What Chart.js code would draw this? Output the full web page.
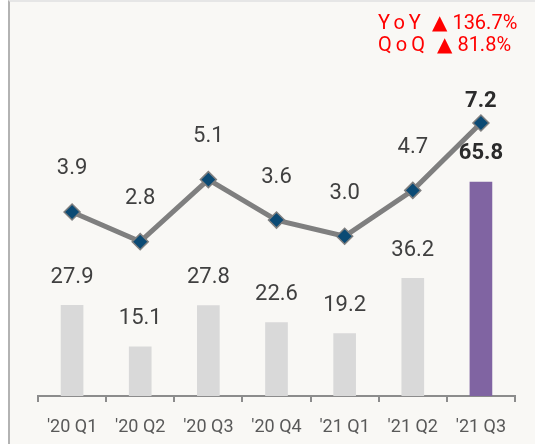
<!DOCTYPE html>
<html>
<head>
<meta charset="utf-8">
<script src="https://cdn.jsdelivr.net/npm/chart.js@4"></script>
<style>
    html, body { margin: 0; padding: 0; background: #ffffff; }
    .frame {
        position: absolute; left: 8px; top: 0; width: 525px; height: 442px;
        background: #f9f8f5; border-left: 2px solid #b3b3b3; border-top: 2px solid #e6e6e6;
    }
    canvas { display: block; }
    .growth {
        position: absolute; left: 368px; font-family: Roboto, 'DejaVu Sans', sans-serif;
        font-size: 20px; color: #ff0000; line-height: 22px; white-space: nowrap;
    }
    .growth .tag { display: inline-block; letter-spacing: 4px; }
    .growth .num { margin-left: 5px; }
</style>
</head>
<body>
<div class="frame">
    <canvas id="chart" width="525" height="442"></canvas>
    <div class="growth" style="top: 9px;"><span class="tag" style="width: 54px;">YoY</span>▲<span class="num">136.7%</span></div>
    <div class="growth" style="top: 31px;"><span class="tag" style="width: 59px;">QoQ</span>▲<span class="num">81.8%</span></div>
</div>
<script>
    // ============================================
    // Data
    // ============================================

    const quarters = ["'20 Q1", "'20 Q2", "'20 Q3", "'20 Q4", "'21 Q1", "'21 Q2", "'21 Q3"];
    const barValues = [27.9, 15.1, 27.8, 22.6, 19.2, 36.2, 65.8];
    const lineValues = [3.9, 2.8, 5.1, 3.6, 3.0, 4.7, 7.2];

    // ============================================
    // Styles
    // ============================================

    const COLORS = {
        bar: '#d9d9d9',
        barHighlight: '#8064a2',
        line: '#7f7f7f',
        point: '#0b4a74',
        label: '#404040',
        labelStrong: '#2b2b2b',
        axis: '#8c8c8c',
        tick: '#595959'
    };

    const lastIndex = barValues.length - 1;

    // value labels drawn above bars and points
    const valueLabels = {
        id: 'valueLabels',
        afterDatasetsDraw(chart) {
            const ctx = chart.ctx;
            ctx.save();
            ctx.textAlign = 'center';
            ctx.textBaseline = 'middle';
            chart.data.datasets.forEach((ds, di) => {
                const meta = chart.getDatasetMeta(di);
                meta.data.forEach((el, i) => {
                    const strong = i === lastIndex;
                    let offset;
                    if (ds.type === 'line') {
                        offset = strong ? 21 : 43;
                    } else {
                        offset = 28;
                    }
                    ctx.font = (strong ? 'bold ' : '') + '22px Roboto, sans-serif';
                    ctx.fillStyle = strong ? COLORS.labelStrong : COLORS.label;
                    ctx.fillText(ds.data[i].toFixed(1), el.x, el.y - offset);
                });
            });
            ctx.restore();
        }
    };

    const ctx = document.getElementById('chart').getContext('2d');

    new Chart(ctx, {
        data: {
            labels: quarters,
            datasets: [
                {
                    type: 'line',
                    data: lineValues,
                    yAxisID: 'yLine',
                    borderColor: COLORS.line,
                    borderWidth: 5,
                    pointStyle: 'rectRot',
                    pointRadius: 8,
                    pointBackgroundColor: COLORS.point,
                    pointBorderColor: COLORS.line,
                    pointBorderWidth: 1.5,
                    tension: 0,
                    order: 0
                },
                {
                    type: 'bar',
                    data: barValues,
                    yAxisID: 'yBar',
                    backgroundColor: barValues.map((v, i) => i === lastIndex ? COLORS.barHighlight : COLORS.bar),
                    barThickness: 22,
                    order: 1
                }
            ]
        },
        options: {
            responsive: false,
            animation: false,
            layout: { padding: { left: 28, right: 20, top: 8, bottom: 0 } },
            plugins: {
                legend: { display: false },
                tooltip: { enabled: false }
            },
            scales: {
                x: {
                    grid: {
                        drawOnChartArea: false,
                        drawTicks: true,
                        tickLength: 6,
                        color: COLORS.axis,
                        lineWidth: 2
                    },
                    border: { display: true, color: COLORS.axis, width: 2 },
                    ticks: {
                        color: COLORS.tick,
                        padding: 15,
                        font: { family: 'Roboto', size: 18 }
                    },
                    afterFit(scale) { scale.height = 48; }
                },
                yBar: {
                    display: false,
                    min: 0,
                    max: 118.2
                },
                yLine: {
                    display: false,
                    min: -2.92,
                    max: 11.33
                }
            }
        },
        plugins: [valueLabels]
    });
</script>
</body>
</html>
